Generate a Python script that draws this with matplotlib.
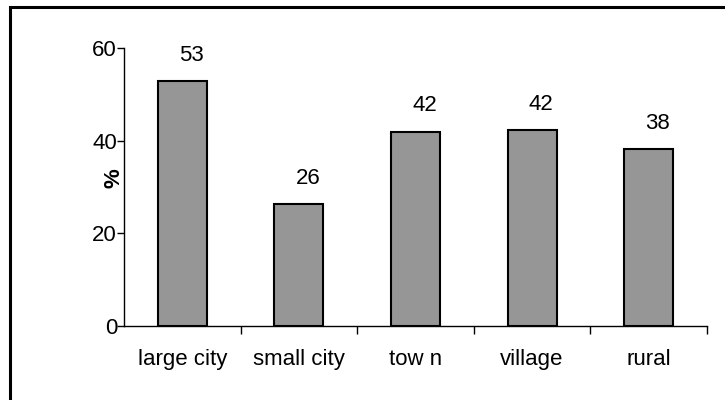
import matplotlib.pyplot as plt
from matplotlib.patches import Rectangle

plt.rcParams['font.family'] = ['Liberation Sans', 'DejaVu Sans']

# data
categories = ['large city', 'small city', 'tow n', 'village', 'rural']
values = [52.9, 26.3, 41.9, 42.2, 38.1]
labels = ['53', '26', '42', '42', '38']

fig = plt.figure(figsize=(7.25, 4), dpi=100)
ax = fig.add_axes([124 / 725, 1 - 325.7 / 400, (707 - 124) / 725, (325.7 - 48) / 400])

x = list(range(len(categories)))
ax.bar(x, values, width=0.42, color='#969696', edgecolor='black', linewidth=1.5)

for xi, v, lab in zip(x, values, labels):
    ax.annotate(lab, (xi, v), xytext=(6.5, 11), textcoords='offset points',
                ha='center', va='bottom', fontsize=16)

ax.set_xlim(-0.5, len(categories) - 0.5)
ax.set_ylim(0, 60)
ax.set_yticks([0, 20, 40, 60])
ax.tick_params(axis='y', labelsize=16, length=5, width=1, pad=0)

# category labels centred, ticks on the boundaries
ax.set_xticks(x)
ax.set_xticklabels(categories, fontsize=16)
ax.tick_params(axis='x', which='major', length=0, pad=17)
ax.set_xticks([i + 0.5 for i in x], minor=True)
ax.tick_params(axis='x', which='minor', length=6, width=1)

ax.set_ylabel('%', fontsize=16, fontweight='bold')
ax.yaxis.set_label_coords(0.0, 0.53)

for s in ['top', 'right']:
    ax.spines[s].set_visible(False)
ax.spines['left'].set_linewidth(1)
ax.spines['bottom'].set_linewidth(1)

# outer frame
fig.patches.append(Rectangle((10 / 725, -0.1), 1.2, 1.1 - 7 / 400,
                             transform=fig.transFigure, fill=False,
                             edgecolor='black', linewidth=2.2))

fig.savefig('out.png', dpi=100)
